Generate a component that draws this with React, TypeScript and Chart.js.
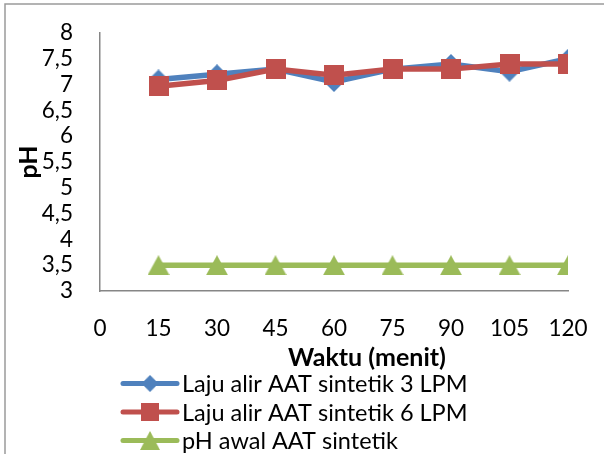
import React, { useEffect, useRef } from "react";
import { Chart, registerables } from "chart.js";

Chart.register(...registerables);

// ---- data ----
const minutes = [15, 30, 45, 60, 75, 90, 105, 120];
const ph3LPM = [7.1, 7.2, 7.3, 7.05, 7.3, 7.4, 7.25, 7.5];
const ph6LPM = [6.97, 7.08, 7.3, 7.18, 7.3, 7.3, 7.4, 7.4];
const phInitial = [3.5, 3.5, 3.5, 3.5, 3.5, 3.5, 3.5, 3.5];
const seriesNames = [
  "Laju alir AAT sintetik 3 LPM",
  "Laju alir AAT sintetik 6 LPM",
  "pH awal AAT sintetik",
];
const xTitle = "Waktu (menit)";
const yTitle = "pH";
const xRange = [0, 120];
const xStep = 15;
const yRange = [3, 8];
const yStep = 0.5;

// ---- styles ----
const FONT = "Lato, 'DejaVu Sans', sans-serif";
const BLUE = "#4F81BD";
const RED = "#C0504D";
const GREEN = "#9BBB59";
const AXIS = "#868686";

function makeMarker(kind: string, w: number, h: number, color: string) {
  const c = document.createElement("canvas");
  c.width = w;
  c.height = h;
  const g = c.getContext("2d")!;
  g.fillStyle = color;
  g.beginPath();
  if (kind === "diamond") {
    g.moveTo(w / 2, 0);
    g.lineTo(w, h / 2);
    g.lineTo(w / 2, h);
    g.lineTo(0, h / 2);
  } else if (kind === "square") {
    g.rect(0, 0, w, h);
  } else {
    g.moveTo(w / 2, 0);
    g.lineTo(w, h);
    g.lineTo(0, h);
  }
  g.closePath();
  g.fill();
  return c;
}

export default function App() {
  const ref = useRef<HTMLCanvasElement | null>(null);

  useEffect(() => {
    if (!ref.current) return;
    const mDiamond = makeMarker("diamond", 20, 20, BLUE);
    const mSquare = makeMarker("square", 20, 20, RED);
    const mTriangle = makeMarker("triangle", 22, 20, GREEN);
    const markers = [mDiamond, mSquare, mTriangle];
    const legendSizes = [
      [17, 17],
      [18, 18],
      [20, 19],
    ];

    const decor = {
      id: "decor",
      beforeDraw(chart: any) {
        const { ctx, width, height } = chart;
        ctx.save();
        ctx.fillStyle = "#ffffff";
        ctx.fillRect(0, 0, width, height);
        ctx.strokeStyle = "#9a9a9a";
        ctx.lineWidth = 1.5;
        ctx.beginPath();
        ctx.moveTo(5, height + 5);
        ctx.lineTo(5, 4);
        ctx.lineTo(width + 5, 4);
        ctx.stroke();
        ctx.restore();
      },
      afterDraw(chart: any) {
        const { ctx, chartArea } = chart;
        ctx.save();
        ctx.fillStyle = "#000000";
        ctx.textAlign = "center";
        ctx.textBaseline = "middle";
        ctx.font = `bold 25px ${FONT}`;
        ctx.fillText(
          xTitle,
          chartArea.left + chartArea.width * 0.5705,
          chartArea.bottom + 67
        );
        ctx.save();
        ctx.translate(29, (chartArea.top + chartArea.bottom) / 2);
        ctx.rotate(-Math.PI / 2);
        ctx.fillText(yTitle, 0, 0);
        ctx.restore();

        // legend
        ctx.font = `23.5px ${FONT}`;
        ctx.textAlign = "left";
        chart.data.datasets.forEach((ds: any, i: number) => {
          const y = 383.5 + i * 28.5;
          ctx.strokeStyle = ds.borderColor;
          ctx.lineWidth = 5;
          ctx.lineCap = "round";
          ctx.beginPath();
          ctx.moveTo(123, y);
          ctx.lineTo(177, y);
          ctx.stroke();
          const [w, h] = legendSizes[i];
          ctx.drawImage(markers[i], 150 - w / 2, y - h / 2, w, h);
          ctx.fillStyle = "#000000";
          ctx.fillText(seriesNames[i], 182, y + 1);
        });
        ctx.restore();
      },
    };

    const chart = new Chart(ref.current, {
      type: "line",
      data: {
        datasets: [
          {
            label: seriesNames[0],
            data: minutes.map((m, i) => ({ x: m, y: ph3LPM[i] })),
            borderColor: BLUE,
            backgroundColor: BLUE,
            borderWidth: 5.5,
            pointStyle: mDiamond as any,
            pointRadius: 10,
            order: 1,
          },
          {
            label: seriesNames[1],
            data: minutes.map((m, i) => ({ x: m, y: ph6LPM[i] })),
            borderColor: RED,
            backgroundColor: RED,
            borderWidth: 5.5,
            pointStyle: mSquare as any,
            pointRadius: 10,
            order: 0,
          },
          {
            label: seriesNames[2],
            data: minutes.map((m, i) => ({ x: m, y: phInitial[i] })),
            borderColor: GREEN,
            backgroundColor: GREEN,
            borderWidth: 5.5,
            pointStyle: mTriangle as any,
            pointRadius: 10,
            order: 2,
          },
        ],
      },
      options: {
        animation: false,
        responsive: false,
        maintainAspectRatio: false,
        layout: { autoPadding: false, padding: { top: 33, right: 36, left: 0, bottom: 0 } },
        plugins: {
          legend: { display: false },
          tooltip: { enabled: false },
          title: { display: false },
        },
        elements: { line: { tension: 0 } },
        scales: {
          x: {
            type: "linear",
            min: xRange[0],
            max: xRange[1],
            grid: {
              display: true,
              color: "rgba(0,0,0,0)",
              drawOnChartArea: false,
              drawTicks: true,
              tickLength: 24,
            },
            border: { display: true, color: AXIS, width: 1.5 },
            ticks: {
              stepSize: xStep,
              autoSkip: false,
              maxRotation: 0,
              padding: 0,
              color: "#000000",
              font: { family: FONT, size: 22.5 },
            },
            afterFit(scale: any) {
              scale.height = 163;
            },
          },
          y: {
            type: "linear",
            min: yRange[0],
            max: yRange[1],
            grid: {
              display: true,
              color: "rgba(0,0,0,0)",
              drawOnChartArea: false,
              drawTicks: true,
              tickLength: 27,
            },
            border: { display: true, color: AXIS, width: 1.5 },
            ticks: {
              stepSize: yStep,
              autoSkip: false,
              padding: 0,
              color: "#000000",
              font: { family: FONT, size: 22.5 },
              callback: (v: any) => String(v).replace(".", ","),
            },
            afterFit(scale: any) {
              scale.width = 100;
            },
          },
        },
      },
      plugins: [decor],
    });
    return () => chart.destroy();
  }, []);

  return (
    <div style={{ position: "absolute", left: 0, top: 0, width: 604, height: 454 }}>
      <canvas ref={ref} width={604} height={454} style={{ width: 604, height: 454, display: "block" }} />
    </div>
  );
}
